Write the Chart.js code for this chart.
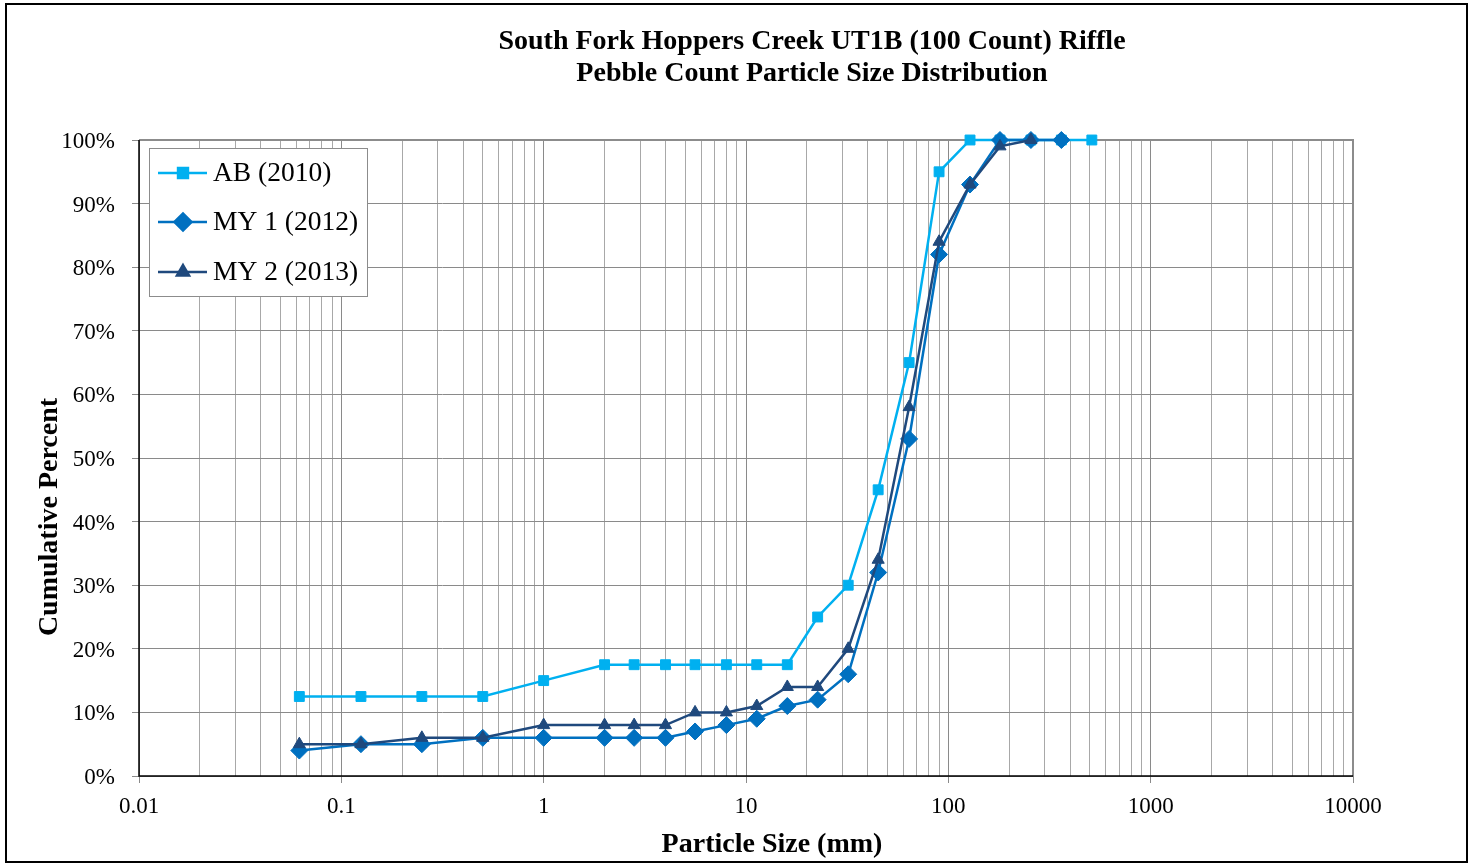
<!DOCTYPE html>
<html>
<head>
<meta charset="utf-8">
<script src="https://cdn.jsdelivr.net/npm/chart.js@4/dist/chart.umd.min.js"></script>
<style>
html,body{margin:0;padding:0;background:#fff;}
#wrap{position:absolute;left:0;top:0;width:1470px;height:867px;}
</style>
</head>
<body>
<div id="wrap"><canvas id="c" width="1470" height="867"></canvas></div>
<script>
// ---- data ----
const chartTitle = ["South Fork Hoppers Creek UT1B (100 Count) Riffle", "Pebble Count Particle Size Distribution"];
const xTitle = "Particle Size (mm)";
const yTitle = "Cumulative Percent";
const seriesNames = ["AB (2010)", "MY 1 (2012)", "MY 2 (2013)"];
const sizesAB  = [0.062, 0.125, 0.25, 0.5, 1, 2, 2.8, 4, 5.6, 8, 11.3, 16, 22.6, 32, 45, 64, 90, 128, 180, 256, 362, 512];
const abValues = [12.5, 12.5, 12.5, 12.5, 15, 17.5, 17.5, 17.5, 17.5, 17.5, 17.5, 17.5, 25, 30, 45, 65, 95, 100, 100, 100, 100, 100];
const sizesMY1 = [0.062, 0.125, 0.25, 0.5, 1, 2, 2.8, 4, 5.6, 8, 11.3, 16, 22.6, 32, 45, 64, 90, 128, 180, 256, 362];
const my1Values = [4, 5, 5, 6, 6, 6, 6, 6, 7, 8, 9, 11, 12, 16, 32, 53, 82, 93, 100, 100, 100];
const sizesMY2 = [0.062, 0.125, 0.25, 0.5, 1, 2, 2.8, 4, 5.6, 8, 11.3, 16, 22.6, 32, 45, 64, 90, 128, 180, 256];
const my2Values = [5, 5, 6, 6, 8, 8, 8, 8, 10, 10, 11, 14, 14, 20, 34, 58, 84, 93, 99, 100];
const xDecadeLabels = ["0.01", "0.1", "1", "10", "100", "1000", "10000"];
const yTickLabels = ["0%","10%","20%","30%","40%","50%","60%","70%","80%","90%","100%"];
const colors = ["#00B0F0", "#0070C0", "#1F497D"];
const markers = ["rect", "rectRot", "triangle"];
const markerRadius = [7, 8.5, 7];

const FONT = "'Liberation Serif', 'Times New Roman', serif";
const toPts = (xs, ys) => xs.map((x, i) => ({x: x, y: ys[i]}));

const decadeValues = xDecadeLabels.map(Number);
function isDecade(v){ const l = Math.log10(v); return Math.abs(l - Math.round(l)) < 1e-9; }

const decorPlugin = {
  id: 'decor',
  beforeDraw(chart){
    const ctx = chart.ctx;
    ctx.save();
    ctx.fillStyle = '#fff';
    ctx.fillRect(0,0,chart.width,chart.height);
    ctx.restore();
  },
  beforeDatasetsDraw(chart){
    const ctx = chart.ctx;
    const a = chart.chartArea;
    ctx.save();
    ctx.strokeStyle = '#8c8c8c';
    ctx.lineWidth = 2;
    ctx.beginPath();
    ctx.moveTo(a.left, a.top); ctx.lineTo(a.right, a.top); ctx.lineTo(a.right, a.bottom);
    ctx.stroke();
    ctx.strokeStyle = '#000';
    ctx.lineWidth = 1.5;
    ctx.beginPath();
    ctx.moveTo(a.left, a.top); ctx.lineTo(a.left, a.bottom); ctx.lineTo(a.right, a.bottom);
    ctx.stroke();
    ctx.restore();
  },
  afterDraw(chart){
    const ctx = chart.ctx;
    ctx.save();
    // outer border
    ctx.strokeStyle = '#000';
    ctx.lineWidth = 2;
    ctx.strokeRect(6, 4, 1461, 858);
    // titles
    ctx.fillStyle = '#000';
    ctx.textAlign = 'center';
    ctx.textBaseline = 'middle';
    ctx.font = 'bold 28px ' + FONT;
    ctx.fillText(chartTitle[0], 812, 42);
    ctx.fillText(chartTitle[1], 812, 74);
    ctx.fillText(xTitle, 772, 845);
    ctx.save();
    ctx.translate(50, 517);
    ctx.rotate(-Math.PI/2);
    ctx.fillText(yTitle, 0, 0);
    ctx.restore();
    // legend
    const lx = 149, ly = 148, lw = 218, lh = 148;
    ctx.fillStyle = '#fff';
    ctx.fillRect(lx, ly, lw, lh);
    ctx.strokeStyle = '#8c8c8c';
    ctx.lineWidth = 1;
    ctx.strokeRect(lx + 0.5, ly + 0.5, lw, lh);
    const rows = [173, 222, 272];
    ctx.font = '27.5px ' + FONT;
    ctx.textAlign = 'left';
    seriesNames.forEach((name, i) => {
      const y = rows[i];
      ctx.strokeStyle = colors[i];
      ctx.lineWidth = 2.5;
      ctx.beginPath(); ctx.moveTo(158, y); ctx.lineTo(207, y); ctx.stroke();
      ctx.fillStyle = colors[i];
      Chart.helpers.drawPoint(ctx, {pointStyle: markers[i], radius: markerRadius[i], borderWidth: 1, rotation: 0}, 183, y);
      ctx.fillStyle = colors[i];
      ctx.fill();
      ctx.fillStyle = '#000';
      ctx.fillText(name, 213, y + 1);
    });
    ctx.restore();
  }
};

const datasets = [
  {label: seriesNames[0], data: toPts(sizesAB, abValues), order: 3},
  {label: seriesNames[1], data: toPts(sizesMY1, my1Values), order: 2},
  {label: seriesNames[2], data: toPts(sizesMY2, my2Values), order: 1}
].map((d, i) => Object.assign(d, {
  borderColor: colors[i], backgroundColor: colors[i],
  pointBackgroundColor: colors[i], pointBorderColor: colors[i],
  pointStyle: markers[i], pointRadius: markerRadius[i], pointBorderWidth: 1,
  borderWidth: 2.5, tension: 0, fill: false, clip: false
}));

new Chart(document.getElementById('c'), {
  type: 'line',
  data: {datasets},
  options: {
    responsive: false, animation: false, devicePixelRatio: 1,
    layout: {padding: {top: 140, right: 117, left: 0, bottom: 0}},
    plugins: {legend: {display: false}, tooltip: {enabled: false}, title: {display: false}},
    scales: {
      x: {
        type: 'logarithmic', min: 0.01, max: 10000,
        afterBuildTicks(scale){
          const t = [];
          for (let e = -2; e <= 3; e++) for (let k = 1; k <= 9; k++) t.push({value: +(k * Math.pow(10, e)).toPrecision(6)});
          t.push({value: 10000});
          scale.ticks = t;
        },
        afterFit(scale){ scale.height = 91; },
        ticks: {
          autoSkip: false, maxRotation: 0, padding: 10,
          color: '#000', font: {family: FONT, size: 23},
          callback(v){ const idx = decadeValues.findIndex(d => Math.abs(d - v) / d < 1e-6); return idx >= 0 ? xDecadeLabels[idx] : ''; }
        },
        grid: {
          color: (c) => (c.tick && isDecade(c.tick.value)) ? '#8a8a8a' : '#a8a8a8',
          tickColor: (c) => (c.tick && isDecade(c.tick.value)) ? '#8a8a8a' : 'rgba(0,0,0,0)',
          tickLength: 7, lineWidth: 1
        },
        border: {display: false}
      },
      y: {
        min: 0, max: 100,
        afterFit(scale){ scale.width = 139; },
        ticks: {
          stepSize: 10, padding: 17, labelOffset: 2, color: '#000', font: {family: FONT, size: 23},
          callback(v){ return yTickLabels[Math.round(v / 10)]; }
        },
        grid: {color: '#8a8a8a', tickColor: '#8a8a8a', tickLength: 7, lineWidth: 1},
        border: {display: false}
      }
    }
  },
  plugins: [decorPlugin]
});
</script>
</body>
</html>
